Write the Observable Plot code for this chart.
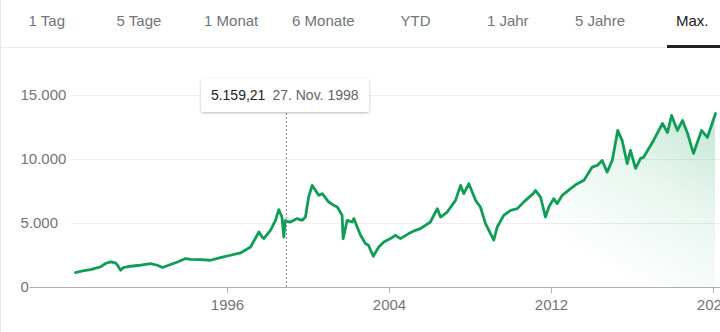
<!DOCTYPE html>
<html>
<head>
<meta charset="utf-8">
<script src="https://cdn.jsdelivr.net/npm/d3@7"></script>
<script src="https://cdn.jsdelivr.net/npm/@observablehq/plot@0.6"></script>
<style>
  html, body { margin: 0; padding: 0; background: #fff; }
  body { font-family: "Liberation Sans", Arial, sans-serif; }
  #wrap { position: relative; width: 720px; height: 332px; overflow: hidden; }
  #tabs { position: relative; height: 47px; border-bottom: 1px solid #ebebeb; }
  .tab { position: absolute; top: 0; width: 92.2px; line-height: 42px; text-align: center; font-size: 15px; color: #70757a; white-space: nowrap; }
  .tab.sel { color: #202124; }
  #underline { position: absolute; top: 45px; height: 3px; background: #202124; }
  #leftborder { position: absolute; left: 0; top: 0; width: 1px; height: 332px; background: #e8e8e8; }
  #tip { position: absolute; height: 33px; line-height: 33px; padding: 0 10px; background: #fff; font-size: 14px; white-space: nowrap;
         box-shadow: 0 1px 3px rgba(0,0,0,0.28); border-radius: 2px; box-sizing: border-box; }
  #tip .v { color: #202124; margin-right: 7px; }
  #tip .d { color: #5f6368; }
</style>
</head>
<body>
<div id="wrap">
  <div id="tabs"></div>
  <div id="chart"></div>
  <div id="leftborder"></div>
</div>
<script>
// ---- data ----
const tabLabels = ["1 Tag", "5 Tage", "1 Monat", "6 Monate", "YTD", "1 Jahr", "5 Jahre", "Max."];
const selectedTab = "Max.";

const years = [
  1988.49, 1988.85, 1989.23, 1989.73, 1989.98, 1990.22, 1990.47, 1990.57, 1990.72, 1990.86,
  1991.21, 1991.70, 1992.20, 1992.54, 1992.79, 1993.19, 1993.53, 1993.93, 1994.17, 1994.67,
  1995.16, 1995.65, 1996.15, 1996.64, 1997.14, 1997.55, 1997.71, 1997.79, 1998.12, 1998.37,
  1998.53, 1998.69, 1998.78, 1998.86, 1998.91, 1999.11, 1999.44, 1999.69, 1999.85, 2000.01,
  2000.18, 2000.51, 2000.68, 2001.00, 2001.25, 2001.42, 2001.66, 2001.71, 2001.91, 2002.16,
  2002.24, 2002.57, 2002.81, 2002.96, 2003.20, 2003.47, 2003.72, 2004.05, 2004.30, 2004.54,
  2004.95, 2005.28, 2005.53, 2006.02, 2006.36, 2006.52, 2006.85, 2007.26, 2007.51, 2007.67,
  2007.92, 2008.25, 2008.49, 2008.74, 2009.15, 2009.32, 2009.64, 2009.98, 2010.31, 2010.72,
  2011.11, 2011.21, 2011.46, 2011.70, 2011.87, 2012.11, 2012.28, 2012.53, 2012.94, 2013.27,
  2013.60, 2014.01, 2014.26, 2014.50, 2014.75, 2015.00, 2015.27, 2015.49, 2015.74, 2015.90,
  2016.15, 2016.40, 2016.54, 2017.04, 2017.48, 2017.73, 2017.93, 2018.22, 2018.47, 2018.72,
  2019.01, 2019.41, 2019.70, 2020.10
];
const values = [
  1170, 1300, 1404, 1607, 1872, 1997, 1919, 1739, 1349, 1560,
  1661, 1739, 1872, 1739, 1560, 1794, 1997, 2262, 2200, 2184,
  2129, 2340, 2519, 2699, 3167, 4337, 3947, 3822, 4469, 5249,
  6084, 5507, 3947, 5249, 5159, 5117, 5382, 5249, 5507, 7067,
  7979, 7199, 7332, 6677, 6419, 6287, 5639, 3822, 5249, 5117,
  5382, 4079, 3432, 3299, 2441, 3167, 3557, 3822, 4079, 3822,
  4212, 4469, 4600, 5117, 6162, 5507, 5897, 6809, 7979, 7332,
  8112, 6809, 6287, 4992, 3700, 4727, 5639, 6029, 6162, 6809,
  7355, 7589, 7067, 5507, 6287, 6942, 6552, 7199, 7722, 8112,
  8369, 9407, 9539, 9929, 9017, 9929, 12269, 11489, 9672, 10709,
  9305, 10085, 10163, 11489, 12815, 12113, 13439, 12269, 13049, 12035,
  10475, 12269, 11723, 13595
];

const yTicks = [0, 5000, 10000, 15000];
const gridValues = [5000, 10000, 15000];
const xTicks = [1996, 2004, 2012, 2020];
const xDomain = [1986.272, 2020.346];

const tipYear = 1998.91;
const tipValue = 5159.21;
const tipDateLabel = "27. Nov. 1998";

// ---- styles ----
const GREEN = "#0f9d58";
const de = d3.formatLocale({decimal: ",", thousands: ".", grouping: [3], currency: ["", " €"]});
const fmtInt = de.format(",d");
const fmtVal = de.format(",.2f");

// ---- tabs ----
const tabs = document.getElementById("tabs");
tabLabels.forEach((t, i) => {
  const el = document.createElement("div");
  el.className = "tab" + (t === selectedTab ? " sel" : "");
  el.style.left = (0.7 + i * 92.2) + "px";
  el.textContent = t;
  tabs.appendChild(el);
});
const ul = document.createElement("div");
ul.id = "underline";
ul.style.left = "667px";
ul.style.width = "60px";
tabs.appendChild(ul);

// ---- chart ----
const series = years.map((y, i) => ({year: y, value: values[i]}));

const chart = Plot.plot({
  width: 720,
  height: 284,
  marginLeft: 30,
  marginRight: 0,
  marginTop: 47,
  marginBottom: 45,
  style: {fontFamily: '"Liberation Sans", Arial, sans-serif', fontSize: "15px", color: "#70757a", background: "transparent"},
  x: {domain: xDomain, label: null},
  y: {domain: [0, 15000], label: null},
  marks: [
    Plot.ruleY(gridValues, {stroke: "#eeeeee", insetLeft: 41}),
    Plot.areaY(series, {x: "year", y: "value", fill: "url(#dax-fill)"}),
    Plot.lineY(series, {x: "year", y: "value", stroke: GREEN, strokeWidth: 2.8, strokeLinejoin: "round"}),
    Plot.ruleX([tipYear], {y1: 0, y2: 15000, stroke: "#80868b", strokeWidth: 1, strokeDasharray: "2,2"}),
    Plot.ruleY([0], {stroke: "#b0b0b0"}),
    Plot.axisX({ticks: xTicks, tickFormat: d => String(d), tickSize: 6, tickPadding: 6, stroke: "#b0b0b0", label: null}),
    Plot.axisY({ticks: yTicks, tickFormat: fmtInt, tickSize: 0, tickPadding: 10, textAnchor: "start", label: null})
  ]
});

const defs = d3.select(chart).insert("defs", ":first-child");
const grad = defs.append("linearGradient")
  .attr("id", "dax-fill")
  .attr("gradientUnits", "userSpaceOnUse")
  .attr("x1", 720).attr("y1", 60)
  .attr("x2", 620).attr("y2", 230);
grad.append("stop").attr("offset", 0).attr("stop-color", GREEN).attr("stop-opacity", 0.26);
grad.append("stop").attr("offset", 0.5).attr("stop-color", GREEN).attr("stop-opacity", 0.09);
grad.append("stop").attr("offset", 1).attr("stop-color", GREEN).attr("stop-opacity", 0);

document.getElementById("chart").appendChild(chart);

// ---- tooltip ----
const tip = document.createElement("div");
tip.id = "tip";
tip.innerHTML = `<span class="v">${fmtVal(tipValue)}</span><span class="d">${tipDateLabel}</span>`;
document.getElementById("wrap").appendChild(tip);
const px = chart.scale("x").apply(tipYear);
const py = 48 + chart.scale("y").apply(15000);
tip.style.left = (px - 85) + "px";
tip.style.top = (py - 16) + "px";
</script>
</body>
</html>
